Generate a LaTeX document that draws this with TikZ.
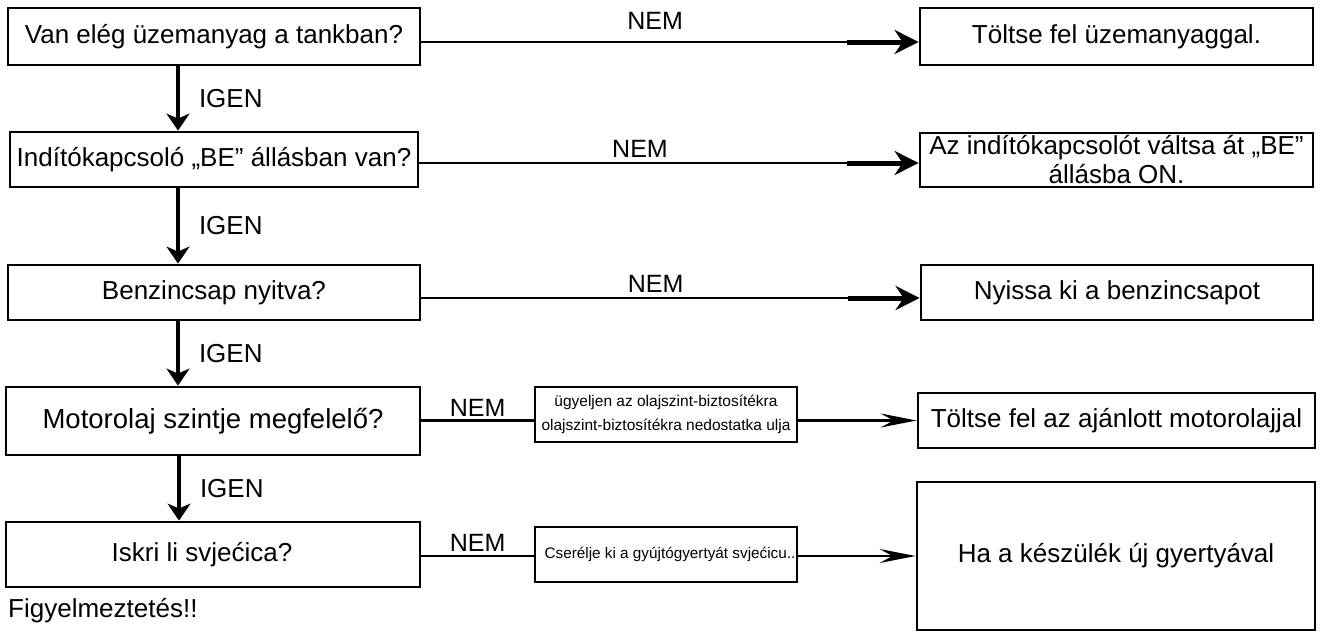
\documentclass[tikz,border=0pt]{standalone}
\usepackage{fontspec}
\setmainfont{Liberation Sans}
\usetikzlibrary{arrows.meta,calc}

\tikzset{
  box/.style={draw=black, line width=2.8pt, fill=white, inner sep=0pt, align=center,
              font=\fontsize{26}{32}\selectfont},
  smallbox/.style={box, line width=2.6pt, font=\fontsize{15.5}{24}\selectfont},
  flowdown/.style={line width=4pt, -{Stealth[length=17pt,width=23pt,inset=5pt]}},
  flowright/.style={line width=2.6pt},
  flowhead/.style={line width=5pt, -{Stealth[length=24pt,width=24pt,inset=8pt]}},
  flowthin/.style={line width=2.2pt, -{Stealth[length=36pt,width=14pt,inset=13pt]}},
  lbl/.style={inner sep=0pt, font=\fontsize{25}{28}\selectfont},
  ylbl/.style={inner sep=0pt, anchor=west, font=\fontsize{26}{30}\selectfont}
}

\begin{document}
\begin{tikzpicture}[x=1pt,y=-1pt]
\useasboundingbox (0,0) rectangle (1328,637);
\fill[white] (0,0) rectangle (1328,637);

% questions (left column)
\node[box, minimum width=412pt, minimum height=57pt] (L1) at (214,36.5) {Van elég üzemanyag a tankban?};
\node[box, minimum width=408pt, minimum height=55pt] (L2) at (214,159.5) {Indítókapcsoló „BE” állásban van?};
\node[box, minimum width=412pt, minimum height=55pt] (L3) at (214,292.5) {Benzincsap nyitva?};
\node[box, minimum width=414pt, minimum height=68pt, font=\fontsize{27.5}{32}\selectfont] (L4) at (213,421) {Motorolaj szintje megfelelő?};
\node[box, minimum width=414pt, minimum height=65pt] (L5) at (213,554.5) {Iskri li svjećica?\kern22pt};

% remedies (right column)
\node[box, minimum width=393pt, minimum height=57pt] (R1) at (1116.5,36.5) {Töltse fel üzemanyaggal.};
\node[box, minimum width=393pt, minimum height=54pt] (R2) at (1116.5,160) {Az indítókapcsolót váltsa át „BE”\\[-3pt]állásba ON.};
\node[box, minimum width=392pt, minimum height=55pt] (R3) at (1117,292.5) {Nyissa ki a benzincsapot};
\node[box, minimum width=397pt, minimum height=55pt] (R4) at (1116.5,420.5) {Töltse fel az ajánlott motorolajjal};
\node[box, minimum width=398pt, minimum height=148pt] (R5) at (1116,556) {Ha a készülék új gyertyával};

% intermediate notes
\node[smallbox, minimum width=262pt, minimum height=55pt] (M4) at (666,414.5) {ügyeljen az olajszint-biztosítékra\\olajszint-biztosítékra nedostatka ulja};
\node[smallbox, minimum width=262pt, minimum height=55pt, font=\fontsize{15.3}{20}\selectfont] (M5) at (666,554.5) {\kern8pt Cserélje ki a gyújtógyertyát svjećicu..};

% warning
\node[inner sep=0pt, anchor=west, font=\fontsize{26}{30}\selectfont] (warn) at (8,611) {Figyelmeztetés!!};

% YES path
\draw[flowdown] ([xshift=-36pt]L1.south) -- node[ylbl, xshift=19pt] {IGEN} ([xshift=-36pt]L1.south |- L2.north);
\draw[flowdown] ([xshift=-36pt]L2.south) -- node[ylbl, xshift=19pt] {IGEN} ([xshift=-36pt]L2.south |- L3.north);
\draw[flowdown] ([xshift=-36pt]L3.south) -- node[ylbl, xshift=19pt] {IGEN} ([xshift=-36pt]L3.south |- L4.north);
\draw[flowdown] ([xshift=-34pt]L4.south) -- node[ylbl, xshift=19pt] {IGEN} ([xshift=-34pt]L4.south |- L5.north);

% NO branches, rows 1-3
\coordinate (n1) at ([yshift=-5.5pt]R1.west);
\draw[flowright] (L1.east |- n1) -- node[lbl, pos=0.547, above=11pt] {NEM} ($(n1)+(-70,0)$);
\draw[flowhead] ($(n1)+(-72,0)$) -- (n1);

\coordinate (n2) at ([yshift=-3pt]R2.west);
\draw[flowright] (L2.east |- n2) -- node[lbl, pos=0.514, above=4pt] {NEM} ($(n2)+(-70,0)$);
\draw[flowhead] ($(n2)+(-72,0)$) -- (n2);

\coordinate (n3) at ([yshift=-5.5pt]R3.west);
\draw[flowright] (L3.east |- n3) -- node[lbl, pos=0.547, above=4pt] {NEM} ($(n3)+(-70,0)$);
\draw[flowhead] ($(n3)+(-72,0)$) -- (n3);

% NO branches, rows 4-5
\draw[flowright, line width=2.2pt] (L4.east |- R4.west) -- node[lbl, above=3pt] {NEM} (M4.west |- R4.west);
\draw[flowthin] (M4.east |- R4.west) -- (R4.west);

\coordinate (n5) at ([yshift=-1.5pt]L5.east);
\draw[flowright, line width=2.2pt] (n5) -- node[lbl, above=3pt] {NEM} (n5 -| M5.west);
\draw[flowthin] (n5 -| M5.east) -- (n5 -| R5.west);
\end{tikzpicture}
\end{document}
